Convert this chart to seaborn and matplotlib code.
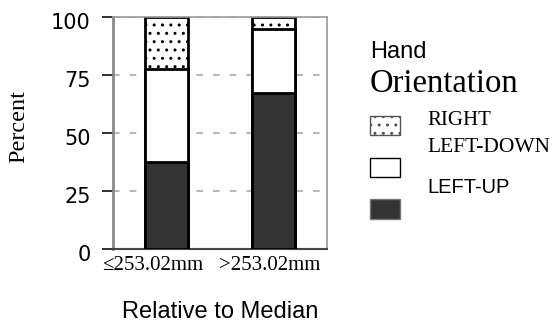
import numpy as np
import pandas as pd
import matplotlib
matplotlib.use("Agg")
import matplotlib.pyplot as plt
import matplotlib.transforms as mtransforms
from matplotlib.patches import Rectangle
import seaborn as sns

groups = ["≤253.02mm", ">253.02mm"]
left_up = [37.5, 67.4]
left_down = [40.0, 27.3]
right = [22.5, 5.3]
yticks = [0, 25, 50, 75, 100]

sns.set_style("ticks")
plt.rcParams.update({
    "hatch.linewidth": 1.0,
    "hatch.color": "black",
    "text.color": "black",
    "axes.labelcolor": "black",
    "xtick.color": "black",
    "ytick.color": "#222222",
    "ytick.labelcolor": "black",
    "ytick.left": True,
    "ytick.direction": "out",
    "ytick.major.size": 8,
    "ytick.major.width": 1.3,
    "ytick.major.pad": 8,
    "xtick.bottom": False,
    "xtick.major.size": 0,
    "xtick.major.pad": 5,
})

df = pd.DataFrame({"group": groups, "lu": left_up, "ld": left_down, "r": right})
df["c1"] = df["lu"]
df["c2"] = df["lu"] + df["ld"]
df["c3"] = df["c2"] + df["r"]

fig = plt.figure(figsize=(5.53, 3.24), dpi=100)
ax = fig.add_axes([113 / 553, 1 - 249 / 324, 214 / 553, 232 / 324])

for y in yticks[1:]:
    ax.axhline(y, color="#aaaaaa", lw=1.2, ls=(0, (4, 6)), zorder=0)

sns.barplot(data=df, x="group", y="c3", color="white", edgecolor="black",
            linewidth=2, hatch="..", width=0.41, ax=ax, zorder=2)
sns.barplot(data=df, x="group", y="c2", color="white", edgecolor="black",
            linewidth=2, width=0.41, ax=ax, zorder=3)
sns.barplot(data=df, x="group", y="c1", color="#333333", edgecolor="black",
            linewidth=2, width=0.41, ax=ax, zorder=4)

ax.set_xlim(-0.5, 1.5)
ax.set_ylim(0, 100)
ax.set_yticks(yticks)
ax.set_yticklabels([str(v) for v in yticks], fontsize=15, family="DejaVu Sans")
for lab in ax.get_yticklabels():
    lab.set_transform(lab.get_transform() +
                      mtransforms.ScaledTranslation(0, -0.04, fig.dpi_scale_trans))
shifts = [-14, -4]
for lab, dx in zip(ax.get_xticklabels(), shifts):
    lab.set_family("Liberation Serif")
    lab.set_fontsize(15)
    lab.set_transform(lab.get_transform() +
                      mtransforms.ScaledTranslation(dx / 100, 0, fig.dpi_scale_trans))

for s in ["top", "right"]:
    ax.spines[s].set_visible(True)
    ax.spines[s].set_color("#999999")
    ax.spines[s].set_linewidth(1.2)
ax.spines["left"].set_color("#888888")
ax.spines["left"].set_linewidth(2)
ax.spines["bottom"].set_color("#444444")
ax.spines["bottom"].set_linewidth(1.5)

ax.set_ylabel("Percent", family="Liberation Serif", fontsize=17.5, color="black")
ax.yaxis.set_label_coords(-0.39, 0.53)
ax.set_xlabel("Relative to Median", family="Liberation Sans", fontsize=17,
              labelpad=19, color="black")

# legend drawn by hand to mimic the offset labels
def fy(py):
    return 1 - py / 324

fig.text(370 / 553, fy(58), "Hand", family="Liberation Sans", fontsize=17, va="baseline")
fig.text(370 / 553, fy(92), "Orientation", family="Liberation Serif", fontsize=23.5, va="baseline")
fig.text(427 / 553, fy(125), "RIGHT", family="Liberation Serif", fontsize=15, va="baseline")
fig.text(427 / 553, fy(152), "LEFT-DOWN", family="Liberation Serif", fontsize=15.5, va="baseline")
fig.text(427 / 553, fy(193), "LEFT-UP", family="Liberation Sans", fontsize=14.5, va="baseline")

pw, ph = 30 / 553, 19 / 324
fig.patches.append(Rectangle((370 / 553, fy(135)), pw, ph, transform=fig.transFigure,
                             facecolor="white", edgecolor="#555555", lw=1, hatch="..", figure=fig))
fig.patches.append(Rectangle((370 / 553, fy(177)), pw, ph, transform=fig.transFigure,
                             facecolor="white", edgecolor="black", lw=1, figure=fig))
fig.patches.append(Rectangle((370 / 553, fy(219)), pw, 20 / 324, transform=fig.transFigure,
                             facecolor="#333333", edgecolor="#777777", lw=1, figure=fig))

fig.savefig("out.png", dpi=100)
